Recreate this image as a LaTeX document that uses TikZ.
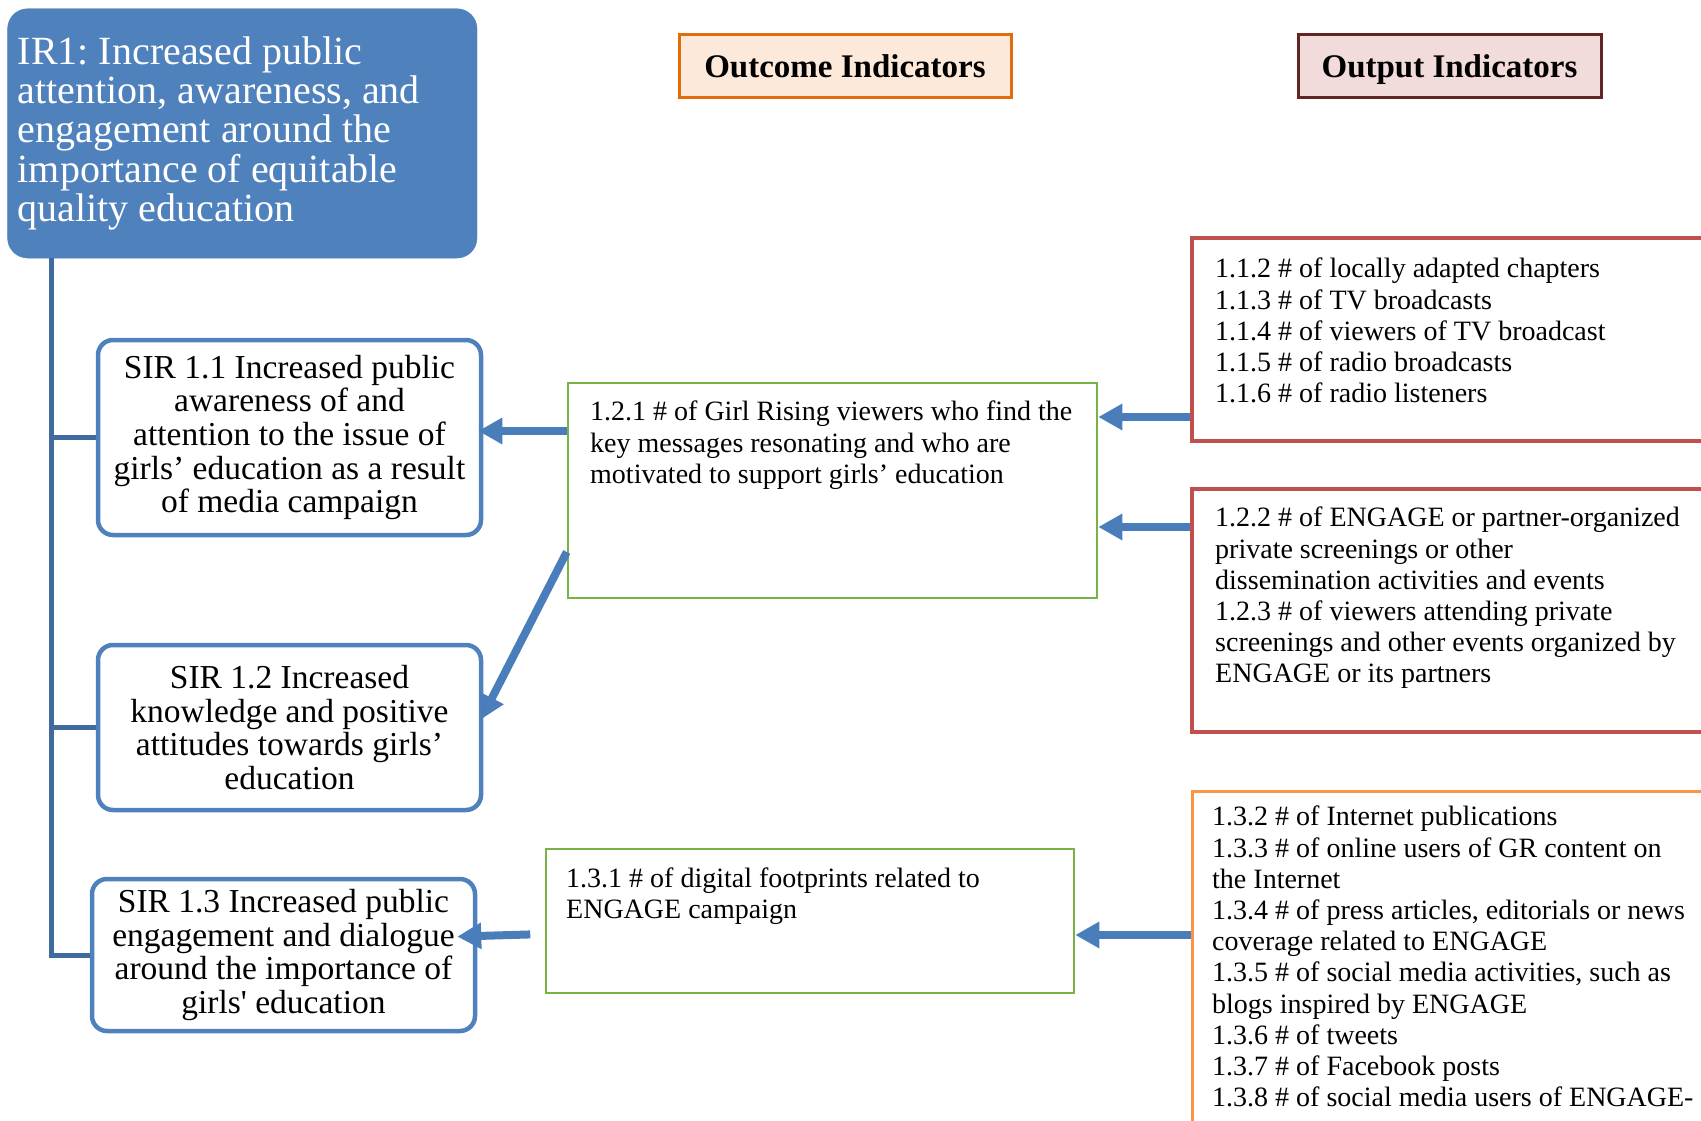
\documentclass[tikz,border=0pt]{standalone}
\usepackage{fontspec}
\setmainfont{Liberation Serif}
\usetikzlibrary{arrows.meta}
\frenchspacing
\definecolor{irblue}{HTML}{4F81BD}
\definecolor{trunkblue}{HTML}{416A9E}
\definecolor{arrowblue}{HTML}{4A7EBB}
\definecolor{ocgreen}{HTML}{77B347}
\definecolor{outred}{HTML}{C0504D}
\definecolor{outorange}{HTML}{F79646}
\definecolor{hdrorange}{HTML}{E36C0A}
\definecolor{hdrorangefill}{HTML}{FDE9D9}
\definecolor{hdrred}{HTML}{632523}
\definecolor{hdrredfill}{HTML}{F2DCDB}
\tikzset{
  irbox/.style={rounded corners=20pt, fill=irblue, draw=irblue, text=white,
    font=\fontsize{40}{39.2}\selectfont\frenchspacing, align=flush left, text width=449pt, inner xsep=10pt,
    minimum width=469.4pt, minimum height=249.3pt},
  sirbox/.style={rounded corners=15pt, draw=irblue, line width=4.5pt, fill=white,
    font=\fontsize{33.5}{33.6}\selectfont, align=center, inner sep=0pt, minimum width=383pt},
  hdrbox/.style={line width=3pt, font=\bfseries\fontsize{33}{36}\selectfont,
    inner sep=0pt, text height=26.5pt, text depth=4.5pt, minimum height=63pt},
  ocbox/.style={draw=ocgreen, line width=2.5pt, inner sep=0pt},
  redbox/.style={draw=outred, line width=4pt, inner sep=0pt},
  orangebox/.style={draw=outorange, line width=3pt, inner sep=0pt},
  bodytext/.style={font=\fontsize{28}{31.2}\selectfont, align=left, inner sep=0pt, anchor=north west},
  trunk/.style={draw=trunkblue, line width=5pt},
  bigarrow/.style={draw=arrowblue, line width=8pt, -{Triangle[length=24pt,width=25pt]}}
}
\begin{document}
\begin{tikzpicture}[x=1pt,y=-1pt]
\useasboundingbox (0,0) rectangle (1701,1121);
\clip (0,0) rectangle (1701,1121);

% IR1
\node[irbox] (ir1) at (242.3,133.4) {IR1: Increased public\\attention, awareness, and\\engagement around the\\importance of equitable\\quality education};

% SIR boxes
\node[sirbox, minimum height=195pt] (sir1) at (289.5,437.5) {SIR 1.1 Increased public\\awareness of and\\attention to the issue of\\girls’ education as a result\\of media campaign};
\node[sirbox, minimum height=165pt] (sir2) at (289.5,727.5) {SIR 1.2 Increased\\knowledge and positive\\attitudes towards girls’\\education};
\node[sirbox, minimum height=152pt] (sir3) at (283.5,955) {SIR 1.3 Increased public\\engagement and dialogue\\around the importance of\\girls\textquotesingle\ education};

% trunk
\coordinate (trunktop) at (51,258);
\draw[trunk] (trunktop) |- (sir3.west);
\draw[trunk] (trunktop |- sir1.west) -- (sir1.west);
\draw[trunk] (trunktop |- sir2.west) -- (sir2.west);

% headers
\node[hdrbox, draw=hdrorange, fill=hdrorangefill, minimum width=332pt] (hout) at (845,66.5) {Outcome Indicators};
\node[hdrbox, draw=hdrred, fill=hdrredfill, minimum width=303pt] (hput) at (1449.5,66.5) {Output Indicators};

% outcome boxes
\node[ocbox, minimum width=529pt, minimum height=215pt] (oc1) at (832.5,490.5) {};
\node[bodytext] (oc1t) at (590,401) {1.2.1 \# of Girl Rising viewers who find the\\key messages resonating and who are\\motivated to support girls’ education};
\node[ocbox, minimum width=528pt, minimum height=144pt] (oc2) at (810,921) {};
\node[bodytext] (oc2t) at (566,867.5) {1.3.1 \# of digital footprints related to\\ENGAGE campaign};

% output boxes
\node[redbox, minimum width=608pt, minimum height=203pt] (out1) at (1496,339.5) {};
\node[bodytext] (out1t) at (1215,258) {1.1.2 \# of locally adapted chapters\\1.1.3 \# of TV broadcasts\\1.1.4 \# of viewers of TV broadcast\\1.1.5 \# of radio broadcasts\\1.1.6 \# of radio listeners};
\node[redbox, minimum width=608pt, minimum height=243pt] (out2) at (1496,610.5) {};
\node[bodytext] (out2t) at (1215,507) {1.2.2 \# of ENGAGE or partner-organized\\private screenings or other\\dissemination activities and events\\1.2.3 \# of viewers attending private\\screenings and other events organized by\\ENGAGE or its partners};
\node[orangebox, minimum width=608pt, minimum height=409pt] (out3) at (1496,995.5) {};
\node[bodytext] (out3t) at (1212,806) {1.3.2 \# of Internet publications\\1.3.3 \# of online users of GR content on\\the Internet\\1.3.4 \# of press articles, editorials or news\\coverage related to ENGAGE\\1.3.5 \# of social media activities, such as\\blogs inspired by ENGAGE\\1.3.6 \# of tweets\\1.3.7 \# of Facebook posts\\1.3.8 \# of social media users of ENGAGE-};

% arrows
\draw[bigarrow, shorten >=-5pt] (oc1.west |- 0,431) -- (sir1.east |- 0,431);
\draw[bigarrow, shorten >=-5pt] (oc1.west |- 0,552) -- (sir2.east |- 0,715);
\draw[bigarrow, shorten <=14.5pt, shorten >=-20pt] (oc2.west |- 0,934) -- (sir3.east |- 0,936);
\draw[bigarrow] (out1.west |- 0,417) -- (oc1.east |- 0,417);
\draw[bigarrow] (out2.west |- 0,527) -- (oc1.east |- 0,527);
\draw[bigarrow] (out3.west |- 0,935) -- (oc2.east |- 0,935);
\end{tikzpicture}
\end{document}
